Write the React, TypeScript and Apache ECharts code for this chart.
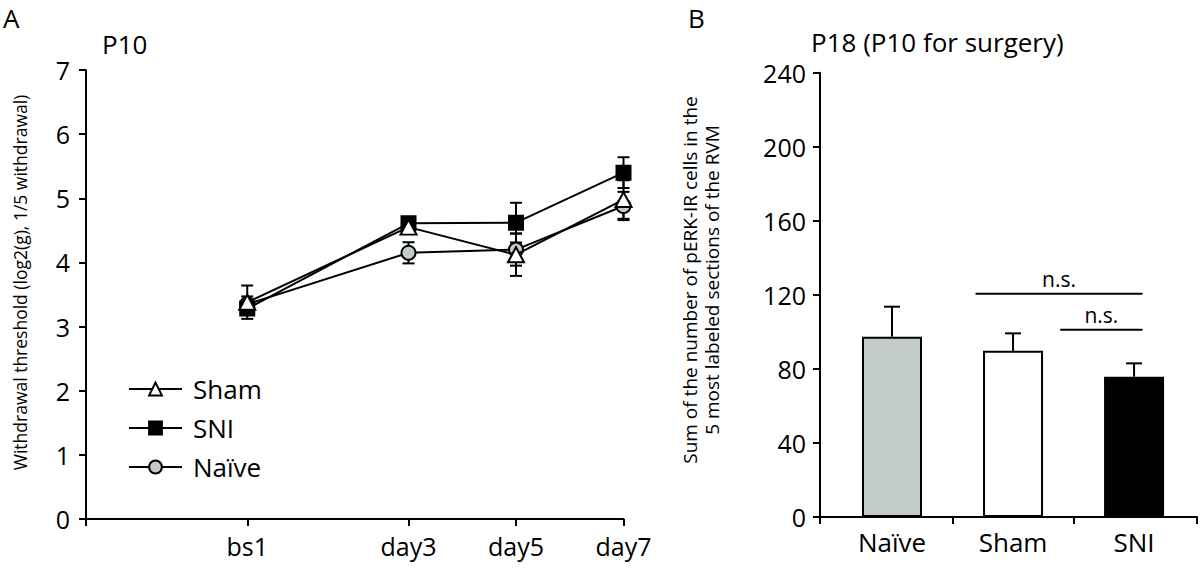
import React, { useEffect, useRef } from "react";
import * as echarts from "echarts";

// ---------- Panel A data ----------
const dayPositions = [0, 3, 5, 7];
const dayLabels = ["bs1", "day3", "day5", "day7"];
const shamValues = [3.38, 4.55, 4.12, 4.98];
const shamErrors = [0.26, 0.08, 0.33, 0.3];
const sniValues = [3.28, 4.61, 4.62, 5.4];
const sniErrors = [0.05, 0.07, 0.31, 0.24];
const naiveValues = [3.35, 4.15, 4.2, 4.88];
const naiveErrors = [0.12, 0.165, 0.25, 0.22];
const yTicksA = [0, 1, 2, 3, 4, 5, 6, 7];

// ---------- Panel B data ----------
const bCategories = ["Naïve", "Sham", "SNI"];
const bValues = [97.4, 89.8, 75.8];
const bErrors = [16.2, 9.4, 7.2];
const bColors = ["#c4cccb", "#ffffff", "#000000"];
const yTicksB = [0, 40, 80, 120, 160, 200, 240];
const sigFrom = [0.69, 1.39];
const sigTo = [2.07, 2.07];
const sigLevel = [120.6, 101.2];
const sigText = ["n.s.", "n.s."];

const FONT = '"Open Sans", "Noto Sans", sans-serif';
const BLACK = "#000";

function errorRenderer(cap: number, upOnly: boolean) {
  return (params: any, api: any) => {
    const x = api.value(0);
    const y = api.value(1);
    const e = api.value(2);
    const top = api.coord([x, y + e]);
    const bot = upOnly ? api.coord([x, y]) : api.coord([x, y - e]);
    const st = { stroke: BLACK, lineWidth: 2 };
    const children: any[] = [
      { type: "line", shape: { x1: top[0], y1: top[1], x2: bot[0], y2: bot[1] }, style: st },
      { type: "line", shape: { x1: top[0] - cap, y1: top[1], x2: top[0] + cap, y2: top[1] }, style: st },
    ];
    if (!upOnly) {
      children.push({ type: "line", shape: { x1: bot[0] - cap, y1: bot[1], x2: bot[0] + cap, y2: bot[1] }, style: st });
    }
    return { type: "group", children };
  };
}

export default function App() {
  const ref = useRef<HTMLDivElement>(null);

  useEffect(() => {
    if (!ref.current) return;
    const chart = echarts.init(ref.current, undefined, { renderer: "svg" });

    const lineSeries = (name: string, values: number[], symbol: string, size: any, fill: string, z: number) => ({
      name,
      type: "line",
      xAxisIndex: 0,
      yAxisIndex: 0,
      data: values.map((v, i) => [dayPositions[i], v]),
      symbol,
      symbolSize: size,
      z,
      lineStyle: { color: BLACK, width: 2 },
      itemStyle: { color: fill, borderColor: BLACK, borderWidth: 2 },
    });

    const errSeries = (name: string, values: number[], errs: number[]) => ({
      name,
      type: "custom",
      xAxisIndex: 0,
      yAxisIndex: 0,
      z: 1,
      renderItem: errorRenderer(6, false),
      data: values.map((v, i) => [dayPositions[i], v, errs[i]]),
    });

    const axisCommon = {
      axisLine: { show: true, onZero: false, lineStyle: { color: BLACK, width: 2 } },
      axisTick: { show: true, length: 7, lineStyle: { color: BLACK, width: 2 } },
      splitLine: { show: false },
      axisLabel: { color: BLACK, fontFamily: FONT, fontSize: 25 },
    };

    const titleStyle = { fontFamily: FONT, fontSize: 26, fontWeight: "normal", color: BLACK };

    chart.setOption({
      animation: false,
      backgroundColor: "#fff",
      textStyle: { fontFamily: FONT },
      title: [
        { text: "A", left: 3, top: 5, padding: 0, textStyle: titleStyle },
        { text: "P10", left: 102, top: 31, padding: 0, textStyle: titleStyle },
        { text: "B", left: 688, top: 5, padding: 0, textStyle: titleStyle },
        { text: "P18 (P10 for surgery)", left: 811, top: 29, padding: 0, textStyle: titleStyle },
      ],
      legend: {
        data: ["Sham", "SNI", "Naïve"],
        orient: "vertical",
        left: 128,
        top: 376,
        padding: 0,
        itemWidth: 53,
        itemHeight: 16,
        itemGap: 13,
        textStyle: { fontFamily: FONT, fontSize: 26, color: BLACK, padding: [0, 0, 0, 6] },
        selectedMode: false,
      },
      graphic: [
        {
          type: "text",
          x: 701,
          y: 280,
          rotation: Math.PI / 2,
          style: {
            text: "Sum of the number of pERK-IR cells in the\n5 most labeled sections of the RVM",
            fill: BLACK,
            fontFamily: FONT,
            fontSize: 19,
            lineHeight: 22,
            align: "center",
            verticalAlign: "middle",
          },
        },
      ],
      grid: [
        { left: 86, top: 70, width: 537.5, height: 449, outerBoundsMode: "none" },
        { left: 820, top: 72.7, width: 377, height: 444.3, outerBoundsMode: "none" },
      ],
      xAxis: [
        {
          type: "value",
          gridIndex: 0,
          min: -3,
          max: 7,
          ...axisCommon,
          axisTick: { ...axisCommon.axisTick, customValues: [-3, ...dayPositions] },
          axisLabel: {
            ...axisCommon.axisLabel,
            margin: 14,
            customValues: dayPositions,
            formatter: (v: number) => dayLabels[dayPositions.indexOf(v)] ?? "",
          },
        },
        {
          type: "value",
          gridIndex: 1,
          min: -0.595,
          max: 2.52,
          ...axisCommon,
          axisTick: { ...axisCommon.axisTick, customValues: [-0.595, 0.5, 1.5, 2.52] },
          axisLabel: {
            ...axisCommon.axisLabel,
            fontSize: 26,
            margin: 12,
            customValues: bCategories.map((_, i) => i),
            formatter: (v: number) => bCategories[Math.round(v)] ?? "",
          },
        },
      ],
      yAxis: [
        {
          type: "value",
          gridIndex: 0,
          min: 0,
          max: 7,
          interval: 1,
          ...axisCommon,
          axisLabel: { ...axisCommon.axisLabel, margin: 16, customValues: yTicksA },
          name: "Withdrawal threshold (log2(g), 1/5 withdrawal)",
          nameLocation: "middle",
          nameGap: 57,
          nameTextStyle: { fontFamily: FONT, fontSize: 17.5, color: BLACK, padding: [0, 0, 0, 24] },
        },
        {
          type: "value",
          gridIndex: 1,
          min: 0,
          max: 240,
          interval: 40,
          ...axisCommon,
          axisLabel: { ...axisCommon.axisLabel, margin: 14, customValues: yTicksB },
        },
      ],
      series: [
        errSeries("Naïve err", naiveValues, naiveErrors),
        errSeries("SNI err", sniValues, sniErrors),
        errSeries("Sham err", shamValues, shamErrors),
        lineSeries("Naïve", naiveValues, "circle", 14, "#c4cccb", 2),
        lineSeries("SNI", sniValues, "rect", 14, "#000000", 3),
        lineSeries("Sham", shamValues, "triangle", [16, 15], "#ffffff", 4),
        {
          name: "bars",
          type: "bar",
          xAxisIndex: 1,
          yAxisIndex: 1,
          barWidth: 60,
          z: 2,
          data: bValues.map((v, i) => ({
            value: [i, v],
            itemStyle: { color: bColors[i], borderColor: BLACK, borderWidth: 2 },
          })),
        },
        {
          name: "bar err",
          type: "custom",
          xAxisIndex: 1,
          yAxisIndex: 1,
          z: 1,
          renderItem: errorRenderer(8, true),
          data: bValues.map((v, i) => [i, v, bErrors[i]]),
        },
        {
          name: "sig",
          type: "custom",
          xAxisIndex: 1,
          yAxisIndex: 1,
          z: 3,
          renderItem: (params: any, api: any) => {
            const a = api.coord([api.value(0), api.value(2)]);
            const b = api.coord([api.value(1), api.value(2)]);
            return {
              type: "group",
              children: [
                { type: "line", shape: { x1: a[0], y1: a[1], x2: b[0], y2: b[1] }, style: { stroke: BLACK, lineWidth: 2 } },
                {
                  type: "text",
                  x: (a[0] + b[0]) / 2,
                  y: a[1] - 4,
                  style: {
                    text: sigText[params.dataIndex],
                    fill: BLACK,
                    fontFamily: FONT,
                    fontSize: 21,
                    align: "center",
                    verticalAlign: "bottom",
                  },
                },
              ],
            };
          },
          data: sigFrom.map((f, i) => [f, sigTo[i], sigLevel[i]]),
        },
      ],
    });

    return () => chart.dispose();
  }, []);

  return (
    <div
      ref={ref}
      style={{ position: "fixed", left: 0, top: 0, width: 1200, height: 569, background: "#fff" }}
    />
  );
}
